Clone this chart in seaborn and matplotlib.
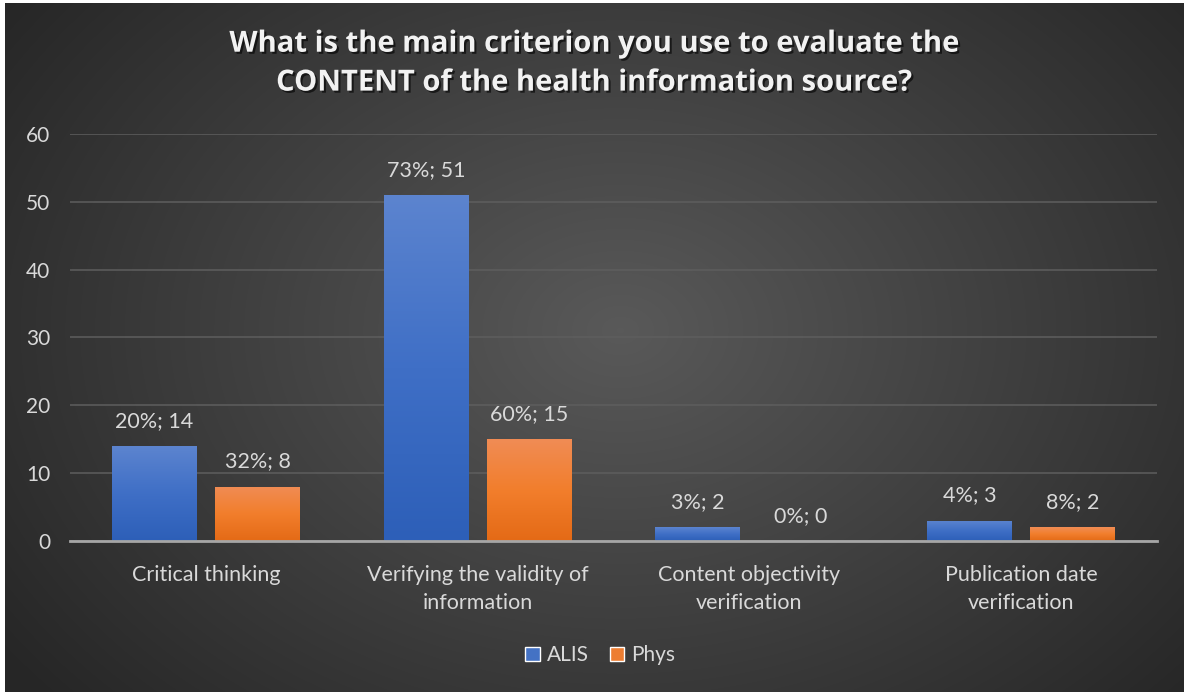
import numpy as np
import pandas as pd
import matplotlib
matplotlib.use("Agg")
import matplotlib.pyplot as plt
import matplotlib.patheffects as pe
from matplotlib.colors import LinearSegmentedColormap
from matplotlib.patches import Patch
import seaborn as sns

# data
categories = ["Critical thinking", "Verifying the validity of\ninformation",
              "Content objectivity\nverification", "Publication date\nverification"]
alis_counts = [14, 51, 2, 3]
alis_pct = [20, 73, 3, 4]
phys_counts = [8, 15, 0, 2]
phys_pct = [32, 60, 0, 8]
groups = ["ALIS", "Phys"]

df = pd.DataFrame({
    "category": categories * 2,
    "group": ["ALIS"] * 4 + ["Phys"] * 4,
    "count": alis_counts + phys_counts,
    "pct": alis_pct + phys_pct,
})

sns.set_theme(style="dark")
plt.rcParams["font.family"] = ["Lato", "DejaVu Sans"]
text_col = "#d9d9d9"

fig = plt.figure(figsize=(11.84, 6.92), dpi=100)

# radial gradient background
bg = fig.add_axes([0, 0, 1, 1], zorder=-10)
yy, xx = np.mgrid[0:692, 0:1184]
r = np.sqrt(((xx - 620) / 760.0) ** 2 + ((yy - 330) / 560.0) ** 2)
r = np.clip(r, 0, 1)
shade = 0.35 - 0.20 * r
img = np.dstack([shade, shade, shade])
img[:, :5] = 1.0
img[:3, :] = 1.0
bg.imshow(img, aspect="auto", extent=[0, 1, 0, 1], origin="upper")
bg.set_axis_off()

ax = fig.add_axes([0.0591, 0.2182, 0.918, 0.5882])
ax.patch.set_alpha(0)

palette = {"ALIS": "#4472c4", "Phys": "#ed7d31"}
sns.barplot(data=df, x="category", y="count", hue="group", hue_order=groups,
            palette=palette, width=0.76, gap=0.18, ax=ax, legend=False,
            saturation=1, errorbar=None, linewidth=0)

ax.set_ylim(0, 60)
ax.set_xlim(-0.5, 3.5)
ax.set_yticks(range(0, 61, 10))
ax.yaxis.grid(True, color="#5e5e5e", linewidth=1.1)
ax.xaxis.grid(False)
for s in ["top", "right", "left"]:
    ax.spines[s].set_visible(False)
ax.spines["bottom"].set_color("#a6a6a6")
ax.spines["bottom"].set_linewidth(2)
ax.tick_params(axis="y", length=0, pad=14, labelsize=15, labelcolor=text_col)
ax.tick_params(axis="x", length=0, pad=17, labelsize=15.5, labelcolor=text_col)
for lab in ax.get_xticklabels():
    lab.set_linespacing(1.5)
ax.set_xlabel("")
ax.set_ylabel("")

# gradient fill for bars
grads = {
    "ALIS": LinearSegmentedColormap.from_list("a", ["#2d5fb8", "#3f6fc6", "#5c84cf"]),
    "Phys": LinearSegmentedColormap.from_list("p", ["#e46a16", "#f27e2c", "#f08c55"]),
}
pcts = {"ALIS": alis_pct, "Phys": phys_pct}
grad = np.linspace(0, 1, 256).reshape(-1, 1)
for g, cont in zip(groups, ax.containers):
    for i, bar in enumerate(cont):
        x0, w, h = bar.get_x(), bar.get_width(), bar.get_height()
        if h > 0:
            im = ax.imshow(grad, cmap=grads[g], aspect="auto", origin="lower",
                           extent=[x0, x0 + w, 0, h], zorder=bar.get_zorder() + 0.1)
            im.set_clip_path(bar)
        ax.annotate(f"{pcts[g][i]}%; {int(h)}", (x0 + w / 2, h),
                    xytext=(0, 11), textcoords="offset points",
                    ha="center", va="bottom", fontsize=15.5, color=text_col)
ax.set_xlim(-0.5, 3.5)
ax.set_ylim(0, 60)

fig.text(0.502, 0.908, "What is the main criterion you use to evaluate the\nCONTENT of the health information source?",
         ha="center", va="center", fontsize=21, fontweight="bold", color="#f2f2f2",
         family=["Open Sans", "DejaVu Sans"], linespacing=1.45,
         path_effects=[pe.withSimplePatchShadow(offset=(1.5, -1.5), shadow_rgbFace="black", alpha=0.6)])

handles = [Patch(facecolor=palette[g], label=g) for g in groups]
fig.legend(handles=handles, loc="center", bbox_to_anchor=(0.507, 0.053), ncol=2,
           frameon=False, fontsize=15, labelcolor=text_col, handlelength=0.7,
           handleheight=0.7, handletextpad=0.35, columnspacing=1.0)

fig.savefig("out.png", dpi=100)
